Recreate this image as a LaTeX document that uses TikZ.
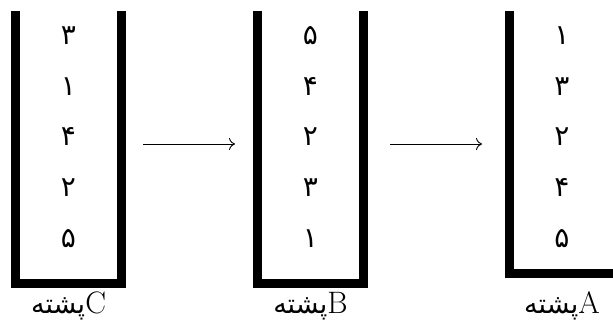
\documentclass[tikz,border=0pt]{standalone}
\usepackage{fontspec}
\newfontfamily\arabicfont[Script=Arabic]{DejaVu Sans}
\TeXXeTstate=1
\usetikzlibrary{calc,arrows.meta}

\begin{document}
\begin{tikzpicture}[x=1pt,y=-1pt,
  stackframe/.style={draw=none, inner sep=0pt, outer sep=0pt,
    minimum width=106pt, minimum height=272pt},
  wall/.style={line width=9pt, line cap=butt, line join=miter},
  digit/.style={font=\arabicfont\fontsize{28}{32}\selectfont,
    anchor=base, inner sep=0pt},
  caption/.style={font=\fontsize{31}{36}\selectfont, anchor=base, inner sep=0pt},
  word/.style={font=\arabicfont\fontsize{27}{32}\selectfont},
  move/.style={-{Computer Modern Rightarrow[length=6pt,width=12pt]}, line width=0.9pt}]
\useasboundingbox (0,0) rectangle (613,334);

% the three stacks (centre lines of their walls)
\node[stackframe] (sC) at (68.5,147) {};
\node[stackframe] (sB) at (310.5,147) {};
\node[stackframe, minimum height=262.5pt] (sA) at (562,142.25) {};

\draw[wall] (sC.north west) -- (sC.south west) -- (sC.south east) -- (sC.north east);
\draw[wall] (sB.north west) -- (sB.south west) -- (sB.south east) -- (sB.north east);
\draw[wall] (sA.north west) -- (sA.south west) -- (sA.south east);

% contents, top to bottom
\foreach \d/\y [count=\i] in {۳/45,۱/95.5,۴/146,۲/196.5,۵/247}
  \node[digit] (c\i) at (sC.north |- 0,\y) {\d};
\foreach \d/\y [count=\i] in {۵/45,۴/95.5,۲/146,۳/196.5,۱/247}
  \node[digit] (b\i) at (sB.north |- 0,\y) {\d};
\foreach \d/\y [count=\i] in {۱/45,۳/95.5,۲/146,۴/196.5,۵/247}
  \node[digit] (a\i) at (sA.north |- 0,\y) {\d};

% captions
\node[caption] (lC) at (sC.south |- 0,313) {{\arabicfont\fontsize{27}{32}\selectfont\beginR پشته\endR}C};
\node[caption] (lB) at (sB.south |- 0,313) {{\arabicfont\fontsize{27}{32}\selectfont\beginR پشته\endR}B};
\node[caption] (lA) at (sA.south |- 0,313) {{\arabicfont\fontsize{27}{32}\selectfont\beginR پشته\endR}A};

% moves between the stacks
\coordinate (row) at (0,144);
\draw[move] ([xshift=21.5pt]sC.east |- row) -- ([xshift=-22.5pt]sB.west |- row);
\draw[move] ([xshift=26.5pt]sB.east |- row) -- ([xshift=-27pt]sA.west |- row);
\end{tikzpicture}
\end{document}
